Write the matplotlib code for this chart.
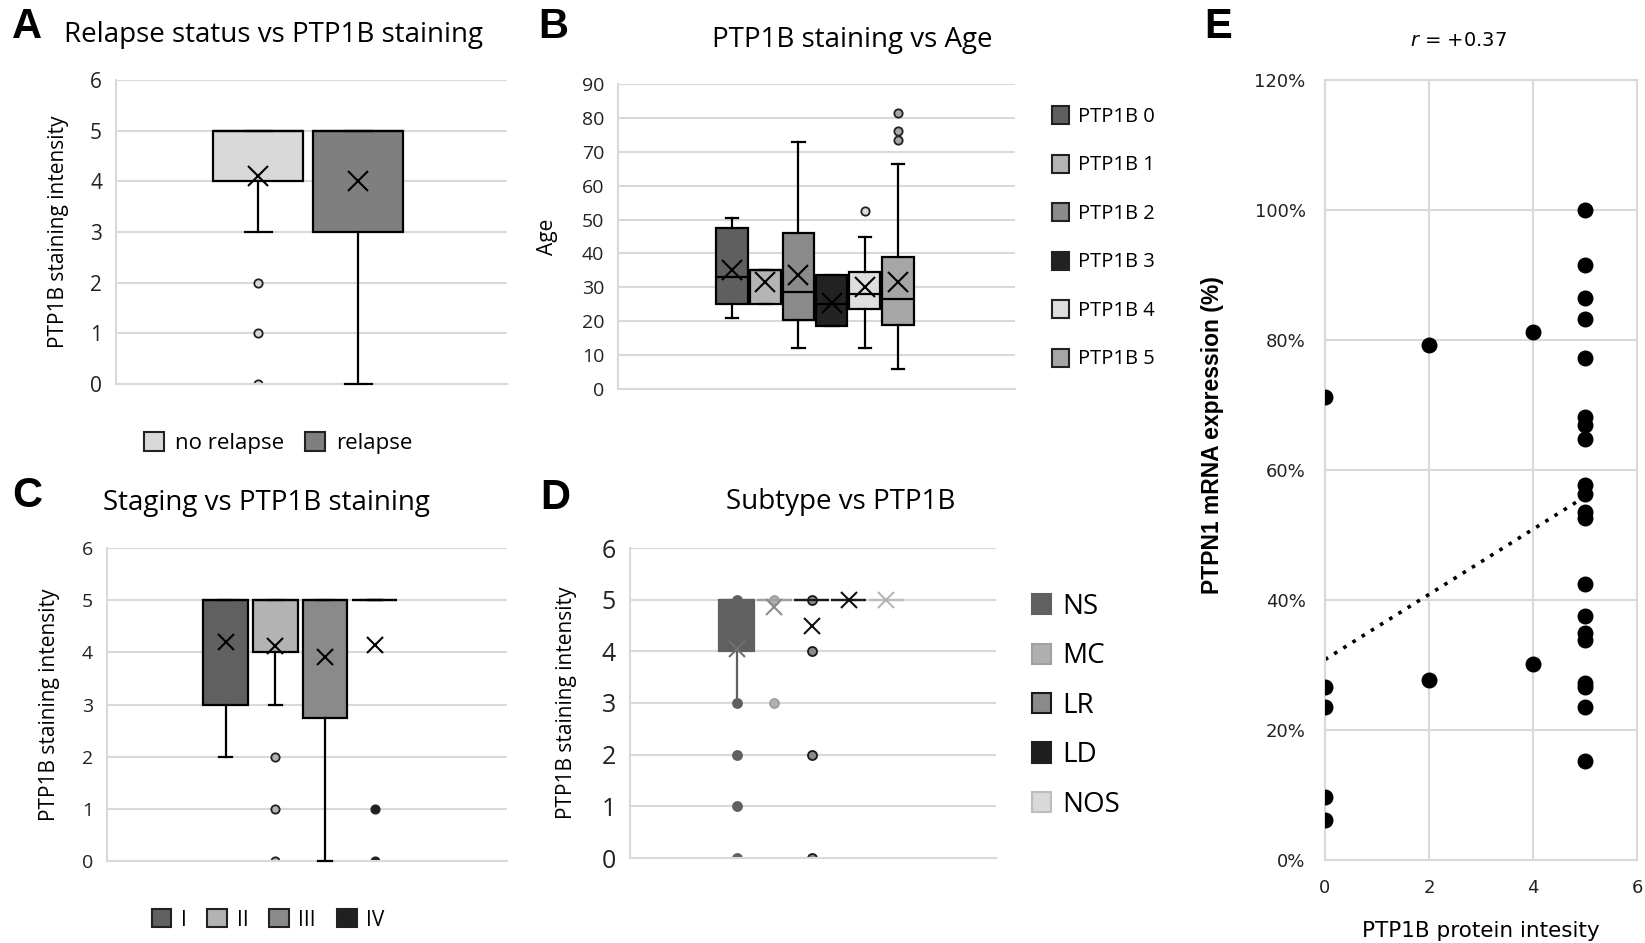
import matplotlib
matplotlib.use("Agg")
import matplotlib.pyplot as plt
import numpy as np
from matplotlib.patches import Patch
from matplotlib.ticker import PercentFormatter

plt.rcParams['font.family'] = ['Open Sans', 'DejaVu Sans']

W, H = 1645, 943
GRID = '#d9d9d9'

# ---- A: relapse status
relapse_names = ['no relapse', 'relapse']
relapse_q1 = [4, 3]
relapse_med = [5, 5]
relapse_q3 = [5, 5]
relapse_lo = [3, 0]
relapse_hi = [5, 5]
relapse_mean = [4.1, 4.0]
relapse_out = [[2, 1, 0], []]
relapse_colors = ['#d9d9d9', '#7f7f7f']

# ---- B: age by staining score
age_names = ['PTP1B 0', 'PTP1B 1', 'PTP1B 2', 'PTP1B 3', 'PTP1B 4', 'PTP1B 5']
age_q1 = [25, 25, 20.5, 18.5, 23.5, 19]
age_med = [33, 35, 28.5, 25, 28, 26.5]
age_q3 = [47.5, 35, 46, 33.5, 34.5, 39]
age_lo = [21, 25, 12, 18.5, 12, 6]
age_hi = [50.5, 35, 73, 33.5, 45, 66.5]
age_mean = [35, 31.5, 33.5, 25.5, 30, 31.5]
age_out = [[], [], [], [], [52.5], [73.5, 76, 81.5]]
age_colors = ['#5f5f5f', '#b4b4b4', '#8a8a8a', '#222222', '#dedede', '#a6a6a6']

# ---- C: staging
stage_names = ['I', 'II', 'III', 'IV']
stage_q1 = [3, 4, 2.75, 5]
stage_med = [5, 5, 5, 5]
stage_q3 = [5, 5, 5, 5]
stage_lo = [2, 3, 0, 5]
stage_hi = [5, 5, 5, 5]
stage_mean = [4.2, 4.12, 3.92, 4.15]
stage_out = [[], [2, 1, 0], [], [1, 0]]
stage_colors = ['#606060', '#b3b3b3', '#8a8a8a', '#202020']

# ---- D: subtype
sub_names = ['NS', 'MC', 'LR', 'LD', 'NOS']
sub_q1 = [4, 5, 5, 5, 5]
sub_med = [5, 5, 5, 5, 5]
sub_q3 = [5, 5, 5, 5, 5]
sub_lo = [3, 5, 5, 5, 5]
sub_hi = [5, 5, 5, 5, 5]
sub_mean = [4.05, 4.85, 4.5, 5, 5]
sub_pts = [[5, 3, 2, 1, 0], [5, 3], [5, 4, 2, 0], [], []]
sub_colors = ['#606060', '#b0b0b0', '#8a8a8a', '#1e1e1e', '#d9d9d9']
sub_edges = ['#606060', '#a0a0a0', '#1a1a1a', '#1e1e1e', '#bdbdbd']
sub_meancol = ['#707070', '#8c8c8c', '#111111', '#111111', '#b5b5b5']

# ---- E: mRNA vs protein
prot_x = [0, 0, 0, 0, 0, 2, 2, 4, 4] + [5] * 20
mrna_y = [71.2, 26.6, 23.5, 9.7, 6.1, 79.3, 27.7, 81.3, 30.2,
          100, 91.6, 86.5, 83.2, 77.3, 68.1, 66.9, 64.7, 57.7, 56.3,
          53.5, 52.6, 42.5, 37.6, 35.0, 33.8, 27.2, 26.6, 23.5, 15.3]


def px_axes(fig, l, t, r, b):
    return fig.add_axes([l / W, 1 - b / H, (r - l) / W, (b - t) / H])


def style_ax(ax, ymax, ystep, fs):
    ax.set_ylim(0, ymax)
    ax.set_yticks(np.arange(0, ymax + 0.01, ystep))
    ax.set_xticks([])
    ax.yaxis.grid(True, color=GRID, lw=1.5)
    ax.set_axisbelow(True)
    for s in ['top', 'right']:
        ax.spines[s].set_visible(False)
    ax.spines['left'].set_color(GRID)
    ax.spines['left'].set_linewidth(1.5)
    ax.spines['bottom'].set_color(GRID)
    ax.spines['bottom'].set_linewidth(1.5)
    ax.tick_params(axis='y', length=0, labelsize=fs, pad=10, colors='#222222')


def draw_boxes(ax, q1, med, q3, lo, hi, mean, out, colors, width,
               edges=None, meancols=None, msize=14, fsize=6, fcols=None, cap=0.3):
    n = len(q1)
    edges = edges or ['black'] * n
    meancols = meancols or ['black'] * n
    fcols = fcols or colors
    for i in range(n):
        st = dict(q1=q1[i], med=med[i], q3=q3[i], whislo=lo[i], whishi=hi[i],
                  mean=mean[i], fliers=out[i])
        art = ax.bxp([st], positions=[i], widths=width, patch_artist=True, showmeans=True,
                     capwidths=width * cap, manage_ticks=False,
                     boxprops=dict(facecolor=colors[i], edgecolor=edges[i], lw=1.6),
                     medianprops=dict(color=edges[i], lw=1.6),
                     whiskerprops=dict(color=edges[i], lw=1.6),
                     capprops=dict(color=edges[i], lw=1.6),
                     meanprops=dict(marker='x', markeredgecolor=meancols[i],
                                    markersize=msize, mew=1.5),
                     flierprops=dict(marker='o', markerfacecolor=fcols[i],
                                     markeredgecolor=edges[i] if edges[i] != 'black' else '#222222',
                                     markersize=fsize, mew=1.3))
        for c in art['caps']:
            c.set_clip_on(False)
            c.set_zorder(4)


fig = plt.figure(figsize=(W / 100, H / 100), dpi=100)

# panel A
axA = px_axes(fig, 116, 80, 507, 384)
style_ax(axA, 6, 1, 15)
draw_boxes(axA, relapse_q1, relapse_med, relapse_q3, relapse_lo, relapse_hi,
           relapse_mean, relapse_out, relapse_colors, 0.9)
axA.set_xlim(-1.42, 2.49)
axA.set_ylabel('PTP1B staining intensity', fontsize=15, labelpad=15)
fig.text(274 / W, 1 - 35 / H, 'Relapse status vs PTP1B staining', fontsize=20,
         ha='center', va='center')
fig.legend([Patch(facecolor=c, edgecolor='#222222', lw=1.5) for c in relapse_colors],
           relapse_names, loc='center', bbox_to_anchor=(278 / W, 1 - 443 / H), ncol=2,
           frameon=False, fontsize=16, handlelength=0.9, handleheight=0.9,
           handletextpad=0.5, columnspacing=0.95, borderpad=0)

# panel B
axB = px_axes(fig, 618, 84, 1015, 389)
style_ax(axB, 90, 10, 14)
draw_boxes(axB, age_q1, age_med, age_q3, age_lo, age_hi, age_mean, age_out,
           age_colors, 0.94, cap=0.4, fsize=6)
axB.set_xlim(-3.43, 8.52)
axB.set_ylabel('Age', fontsize=15, labelpad=17)
fig.text(852 / W, 1 - 40 / H, 'PTP1B staining vs Age', fontsize=20,
         ha='center', va='center')
fig.legend([Patch(facecolor=c, edgecolor='#222222', lw=1.5) for c in age_colors],
           age_names, loc='upper left', bbox_to_anchor=(1052 / W, 1 - 106 / H),
           frameon=False, fontsize=14.5, handlelength=0.85, handleheight=1.0,
           handletextpad=0.45, labelspacing=1.37, borderpad=0, borderaxespad=0)

# panel C
axC = px_axes(fig, 107, 548, 507, 861)
style_ax(axC, 6, 1, 14)
draw_boxes(axC, stage_q1, stage_med, stage_q3, stage_lo, stage_hi, stage_mean,
           stage_out, stage_colors, 0.9, msize=12, cap=0.3)
axC.set_xlim(-2.39, 5.66)
axC.set_ylabel('PTP1B staining intensity', fontsize=15, labelpad=16)
fig.text(266 / W, 1 - 503 / H, 'Staging vs PTP1B staining', fontsize=20,
         ha='center', va='center')
fig.legend([Patch(facecolor=c, edgecolor='#222222', lw=1.5) for c in stage_colors],
           stage_names, loc='center', bbox_to_anchor=(268 / W, 1 - 920 / H), ncol=4,
           frameon=False, fontsize=15, handlelength=0.95, handleheight=0.95,
           handletextpad=0.45, columnspacing=1.0, borderpad=0)

# panel D
axD = px_axes(fig, 630, 548, 996, 858)
style_ax(axD, 6, 1, 18)
draw_boxes(axD, sub_q1, sub_med, sub_q3, sub_lo, sub_hi, sub_mean, sub_pts,
           sub_colors, 0.94, edges=sub_edges, meancols=sub_meancol, msize=11,
           fsize=6.5, cap=0.0)
axD.set_xlim(-2.87, 6.95)
axD.set_ylabel('PTP1B staining intensity', fontsize=15, labelpad=18)
fig.text(841 / W, 1 - 502 / H, 'Subtype vs PTP1B', fontsize=20,
         ha='center', va='center')
fig.legend([Patch(facecolor=c, edgecolor=e, lw=1.5) for c, e in zip(sub_colors, sub_edges)],
           sub_names, loc='upper left', bbox_to_anchor=(1032 / W, 1 - 593 / H),
           frameon=False, fontsize=20, handlelength=0.68, handleheight=0.75,
           handletextpad=0.4, labelspacing=0.77, borderpad=0, borderaxespad=0)

# panel E
axE = px_axes(fig, 1325, 80, 1637, 860)
px = np.array(prot_x, dtype=float)
py = np.array(mrna_y) / 100
axE.scatter(px, py, s=110, color='black', zorder=3)
k, b0 = np.polyfit(px, py, 1)
xs = np.array([px.min(), px.max()])
axE.plot(xs, k * xs + b0, ls=(0, (1, 2)), color='black', lw=2.6)
axE.set_xlim(0, 6)
axE.set_ylim(0, 1.2)
axE.set_xticks([0, 2, 4, 6])
axE.set_yticks(np.arange(0, 1.21, 0.2))
axE.yaxis.set_major_formatter(PercentFormatter(1.0, decimals=0))
axE.grid(True, color=GRID, lw=1.5)
axE.set_axisbelow(True)
for s in axE.spines.values():
    s.set_color(GRID)
    s.set_linewidth(1.5)
axE.tick_params(length=0, labelsize=13, colors='#222222', pad=14)
for lab in axE.get_xticklabels() + axE.get_yticklabels():
    lab.set_family('DejaVu Sans')
axE.set_xlabel('PTP1B protein intesity', fontsize=15.5, family='DejaVu Sans', labelpad=17)
axE.set_ylabel('PTPN1 mRNA expression (%)', fontsize=16.5, fontweight='bold',
               family='Liberation Sans')
axE.yaxis.set_label_coords(-0.324, 0.545)
fig.text(1458 / W, 1 - 40 / H, '$r$ = +0.37', fontsize=14, family='DejaVu Sans',
         ha='center', va='center')

# panel letters
for letter, x, y in [('A', 12, 27), ('B', 538, 27), ('C', 12, 496), ('D', 540, 498), ('E', 1204, 27)]:
    fig.text(x / W, 1 - y / H, letter, fontsize=30, fontweight='bold',
             family='Liberation Sans', ha='left', va='center')

fig.savefig('out.png', dpi=100)
